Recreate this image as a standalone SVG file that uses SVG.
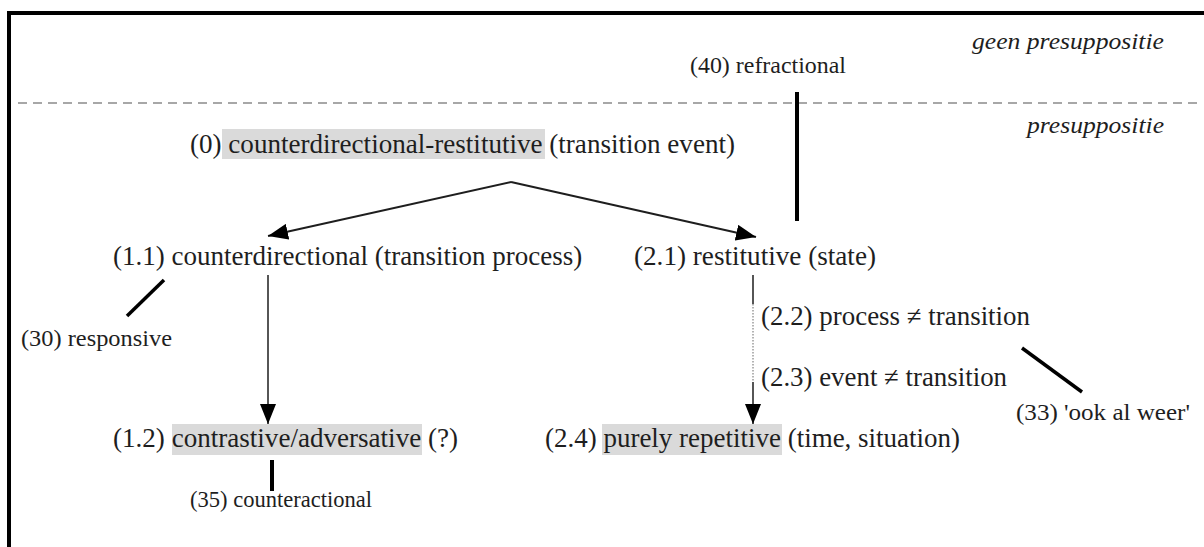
<svg xmlns="http://www.w3.org/2000/svg" width="1204" height="547" viewBox="0 0 1204 547">
<defs>
<style>
text{font-family:'Liberation Serif','Times New Roman',Times,serif;fill:#1e1e1e;}
.m{font-size:27px;}
.s{font-size:23px;}
.i{font-size:23px;font-style:italic;}
.hl{fill:#dadada;}
.frame{stroke:#000;stroke-width:4;fill:none;}
.dash{stroke:#8a8a8a;stroke-width:1.5;stroke-dasharray:9 6;fill:none;}
.arr{stroke:#1e1e1e;stroke-width:2;fill:none;}
.vert{stroke:#1e1e1e;stroke-width:1.5;fill:none;}
.thick{stroke:#000;stroke-width:4;fill:none;}
.dot{stroke:#9a9a9a;stroke-width:1.5;stroke-dasharray:1.5 1.5;fill:none;}
</style>
<marker id="ah" viewBox="0 0 20 16" refX="20" refY="8" markerWidth="20" markerHeight="16" markerUnits="userSpaceOnUse" orient="auto">
<path d="M0,0 L20,8 L0,16 z" fill="#000"/>
</marker>
</defs>
<rect x="0" y="0" width="1204" height="547" fill="#fff"/>
<path class="frame" d="M9,547 L9,13 L1204,13"/>
<line class="dash" x1="18" y1="103" x2="1200" y2="103"/>
<text class="i" x="1164" y="49" text-anchor="end" textLength="192" lengthAdjust="spacingAndGlyphs">geen presuppositie</text>
<text class="i" x="1164" y="133" text-anchor="end" textLength="137" lengthAdjust="spacingAndGlyphs">presuppositie</text>

<g id="connectors">
<line class="thick" x1="797" y1="92" x2="797" y2="221"/>
<line class="arr" x1="511" y1="182" x2="268" y2="236" marker-end="url(#ah)"/>
<line class="arr" x1="511" y1="182" x2="756" y2="237" marker-end="url(#ah)"/>
<line class="thick" x1="164" y1="280" x2="127" y2="316" style="stroke-width:3.5"/>
<line class="vert" x1="268" y1="275" x2="268" y2="424" marker-end="url(#ah)"/>
<line class="vert" x1="753" y1="275" x2="753" y2="304"/>
<line class="dot" x1="753" y1="304" x2="753" y2="382"/>
<line class="vert" x1="753" y1="382" x2="753" y2="424" marker-end="url(#ah)"/>
<line class="thick" x1="1022" y1="348" x2="1082" y2="392" style="stroke-width:3.5"/>
<line class="thick" x1="272" y1="460" x2="272" y2="491"/>
</g>

<g id="n40"><text class="s" x="690" y="73" textLength="156" lengthAdjust="spacingAndGlyphs">(40) refractional</text></g>

<g id="n0">
<rect class="hl" x="222" y="129" width="323" height="30"/>
<text class="m" x="190" y="153" textLength="545" lengthAdjust="spacingAndGlyphs">(0) counterdirectional-restitutive (transition event)</text>
</g>

<g id="n11"><text class="m" x="113" y="265">(1.1) counterdirectional (transition process)</text></g>
<g id="n21"><text class="m" x="634" y="265" textLength="242" lengthAdjust="spacingAndGlyphs">(2.1) restitutive (state)</text></g>
<g id="n30"><text class="s" x="21" y="346" textLength="151" lengthAdjust="spacingAndGlyphs">(30) responsive</text></g>
<g id="n22"><text class="m" x="761" y="325" textLength="269" lengthAdjust="spacingAndGlyphs">(2.2) process ≠ transition</text></g>
<g id="n23"><text class="m" x="761" y="386" textLength="246" lengthAdjust="spacingAndGlyphs">(2.3) event ≠ transition</text></g>
<g id="n33"><text class="s" x="1016" y="420" textLength="174" lengthAdjust="spacingAndGlyphs">(33) 'ook al weer'</text></g>

<g id="n12">
<rect class="hl" x="172" y="424" width="250" height="31"/>
<text class="m" x="113" y="447" textLength="345" lengthAdjust="spacingAndGlyphs">(1.2) contrastive/adversative (?)</text>
</g>
<g id="n24">
<rect class="hl" x="602" y="424" width="180" height="31"/>
<text class="m" x="545" y="447" textLength="415" lengthAdjust="spacingAndGlyphs">(2.4) purely repetitive (time, situation)</text>
</g>
<g id="n35"><text class="s" x="190" y="507" textLength="182" lengthAdjust="spacingAndGlyphs">(35) counteractional</text></g>
</svg>
